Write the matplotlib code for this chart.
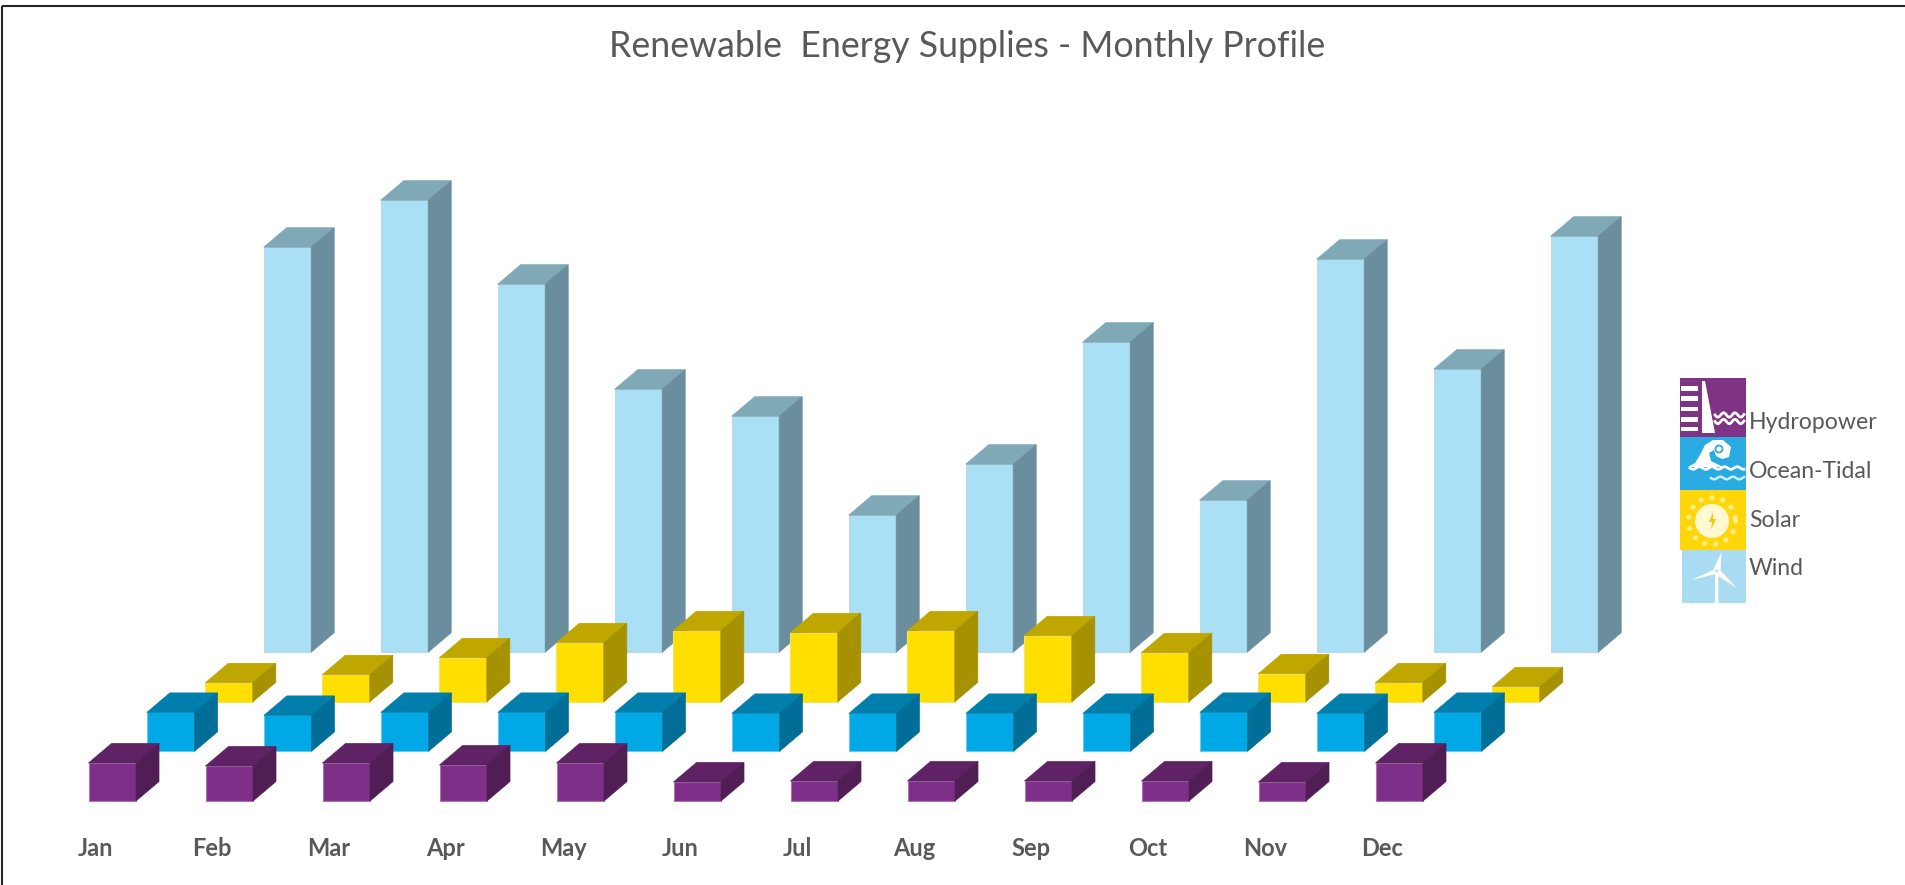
import numpy as np
import matplotlib
matplotlib.use('Agg')
import matplotlib.pyplot as plt
from matplotlib.patches import Rectangle, Circle, Polygon

months = ['Jan', 'Feb', 'Mar', 'Apr', 'May', 'Jun', 'Jul', 'Aug', 'Sep', 'Oct', 'Nov', 'Dec']
hydro = [38, 35, 38, 36, 38, 19, 20, 20, 20, 20, 19, 38]
ocean = [39, 36, 39, 39, 39, 38, 38, 38, 38, 39, 38, 39]
solar = [19, 27, 44, 59, 71, 69, 71, 66, 49, 28, 19, 15]
wind = [405, 452, 368, 263, 236, 137, 188, 310, 152, 393, 283, 416]

W, H = 1905, 885
plt.rcParams['font.family'] = ['Lato', 'DejaVu Sans']
TXT = '#595959'

fig = plt.figure(figsize=(W / 100, H / 100), dpi=100)
ax = fig.add_axes([0, 0, 1, 1])
ax.set_xlim(0, W)
ax.set_ylim(H, 0)
ax.axis('off')

# bar layout, pixels
step = 117.0
bw = 47.5
dx, dy = 23.0, 19.5
x0 = 88.5
base0 = 801.0
row_dx, row_dy = 58.4, 49.6

# back row first so the front rows sit on top
rows = [
    (wind, 3, '#A9E0F5', '#80A9B8', '#6A8E9D', '#BFD8E2'),
    (solar, 2, '#FFDF00', '#BFA700', '#A69100', '#F5E566'),
    (ocean, 1, '#00A8E6', '#007FAD', '#006E96', '#66CBF0'),
    (hydro, 0, '#7E2F87', '#5F2365', '#501D55', '#A878AD'),
]
for vals, r, front, top, side, edge in rows:
    xs = x0 + row_dx * r + step * np.arange(len(months))
    base = base0 - row_dy * r
    ys = base - np.array(vals)
    ax.bar(xs, vals, bw, bottom=ys, align='edge', color=front, edgecolor=edge, linewidth=0.8, zorder=r * -10 + 30)
    for x, y in zip(xs, ys):
        ax.fill([x, x + dx, x + bw + dx, x + bw], [y, y - dy, y - dy, y], color=top, lw=0.5, zorder=r * -10 + 31)
        ax.fill([x + bw, x + bw + dx, x + bw + dx, x + bw], [y, y - dy, base - dy, base], color=side, lw=0.5, zorder=r * -10 + 31)

# month labels
for i, m in enumerate(months):
    ax.text(95 + step * i, 856, m, ha='center', va='baseline', fontsize=17, fontweight='bold', color=TXT)

ax.text(967, 57, 'Renewable  Energy Supplies - Monthly Profile', ha='center', va='baseline', fontsize=25.7, color=TXT)

# outer frame
ax.add_patch(Rectangle((2, 6), W + 10, H + 10, fill=False, edgecolor='#262626', lw=1.5, clip_on=False))

# legend icons
ix0, ix1 = 1680, 1746
wh = 'white'

ax.add_patch(Rectangle((ix0, 378), ix1 - ix0, 59, color='#7F3385', lw=0, zorder=40))
for yy in [386, 396, 406.5, 417, 426.5]:
    ax.add_patch(Rectangle((1681, yy), 17, 4.5, color=wh, lw=0, zorder=41))
ax.add_patch(Polygon([(1702, 381), (1705, 381), (1715, 433), (1702, 433)], color=wh, lw=0, zorder=41))
tw = np.linspace(1715, 1744, 50)
for yy in [415, 421.5]:
    ax.plot(tw, yy + 2.2 * np.sin((tw - 1715) * 0.55), color=wh, lw=2, zorder=41)

ax.add_patch(Rectangle((ix0, 437), ix1 - ix0, 53, color='#29ABE2', lw=0, zorder=40))
ax.add_patch(Polygon([(1688, 467), (1695, 463), (1700, 455), (1705, 445), (1713, 440), (1723, 440),
                      (1731, 447), (1729, 457), (1722, 459), (1716, 456), (1714, 450), (1709, 453),
                      (1711, 461), (1723, 467)], color=wh, lw=0, zorder=41))
ax.add_patch(Circle((1719, 449), 3.5, fill=False, edgecolor='#29ABE2', lw=1.3, zorder=42))
tw = np.linspace(1690, 1744, 60)
ax.plot(tw, 468 + 1.3 * np.sin((tw - 1690) * 0.5), color=wh, lw=2, zorder=41)
tw = np.linspace(1711, 1744, 40)
ax.plot(tw, 478 + 1.3 * np.sin((tw - 1711) * 0.5), color='#C8F0F5', lw=1.8, zorder=41)

ax.add_patch(Rectangle((ix0, 490), ix1 - ix0, 60, color='#FFD60A', lw=0, zorder=40))
ax.add_patch(Circle((1712, 521), 17, color='#FFF8D0', lw=0, zorder=41))
for a in np.arange(0, 360, 27):
    ax.add_patch(Circle((1712 + 23.5 * np.cos(np.radians(a)), 521 + 23.5 * np.sin(np.radians(a))), 2.5,
                        color='#FFEE90', lw=0, zorder=41))
ax.add_patch(Polygon([(1713, 512), (1709, 522), (1712, 522), (1711, 530), (1716, 519), (1713, 519)],
                     color='#F2C811', lw=0, zorder=42))

ax.add_patch(Rectangle((1682, 550), ix1 - 1682, 53, color='#A9DCF2', lw=0, zorder=40))
ax.add_patch(Polygon([(1715.2, 572), (1718.2, 572), (1718.5, 603), (1715, 603)], color=wh, lw=0, zorder=41))
ax.add_patch(Polygon([(1713.5, 569), (1721.7, 552), (1720.5, 571)], color=wh, lw=0, zorder=41))
ax.add_patch(Polygon([(1715, 569), (1691.7, 580), (1716, 574)], color=wh, lw=0, zorder=41))
ax.add_patch(Polygon([(1719, 569), (1736.7, 588), (1716, 574.5)], color=wh, lw=0, zorder=41))

for name, y in [('Hydropower', 429), ('Ocean-Tidal', 478), ('Solar', 527), ('Wind', 575)]:
    ax.text(1749, y, name, ha='left', va='baseline', fontsize=16.6, color=TXT, zorder=42)

fig.savefig('out.png', dpi=100, facecolor='white')
